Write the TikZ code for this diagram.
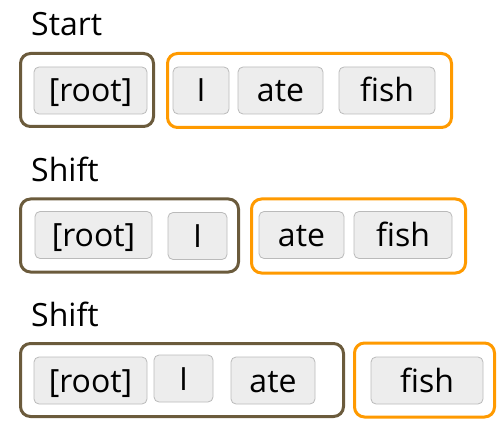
\documentclass[tikz,border=0pt]{standalone}
\usepackage{fontspec}
\setmainfont{Open Sans}
\tikzset{mot/.style = {draw = black!27, fill = black!7, line width = 0.8pt,
                       rounded corners = 5pt, minimum height = 47pt,
                       text height = 23pt, text depth = 0pt,
                       inner sep = 0pt, font = \fontsize{32}{36}\selectfont},
         pile/.style = {draw = pilecol, line width = 3pt, rounded corners = 10pt,
                        minimum height = 73pt, inner sep = 0pt},
         tampon/.style = {draw = tamponcol, line width = 3pt, rounded corners = 10pt,
                          minimum height = 74pt, inner sep = 0pt},
         etape/.style = {anchor = base west, inner sep = 0pt,
                         font = \fontsize{32}{36}\selectfont}
        }
\definecolor{pilecol}{HTML}{6B5B3C}
\definecolor{tamponcol}{HTML}{FF9A00}

\begin{document}
\begin{tikzpicture}[x = 1pt, y = -1pt]
  \useasboundingbox (0,0) rectangle (502,435);

  \node[etape] (etape1) at (31,36) {Start};
  \node[pile, minimum width = 133pt] (pile1) at (87,90) {};
  \node[tampon, minimum width = 284pt] (tampon1) at (309.5,90.5) {};
  \node[mot, minimum width = 113pt] (root1) at (90.5,90.5) {[root]};
  \node[mot, minimum width = 56pt] (I1) at (201,90.5) {I};
  \node[mot, minimum width = 85pt] (ate1) at (280.5,90.5) {ate};
  \node[mot, minimum width = 96pt] (fish1) at (387,90.5) {fish};

  \node[etape] (etape2) at (31,182) {Shift};
  \node[pile, minimum width = 218pt] (pile2) at (129.5,235.5) {};
  \node[tampon, minimum width = 214pt] (tampon2) at (358.5,236) {};
  \node[mot, minimum width = 117pt] (root2) at (93.5,235) {[root]};
  \node[mot, minimum width = 59pt] (I2) at (197.5,236) {I};
  \node[mot, minimum width = 85pt] (ate2) at (301.5,235) {ate};
  \node[mot, minimum width = 98pt] (fish2) at (403,235) {fish};

  \node[etape] (etape3) at (31,326) {Shift};
  \node[pile, minimum width = 323pt] (pile3) at (182,380) {};
  \node[tampon, minimum width = 140pt] (tampon3) at (424.5,380) {};
  \node[mot, minimum width = 113pt] (root3) at (90.5,380.5) {[root]};
  \node[mot, minimum width = 59pt] (I3) at (183.5,378.5) {I};
  \node[mot, minimum width = 84pt] (ate3) at (273,380.5) {ate};
  \node[mot, minimum width = 112pt] (fish3) at (427,380.5) {fish};
\end{tikzpicture}
\end{document}
